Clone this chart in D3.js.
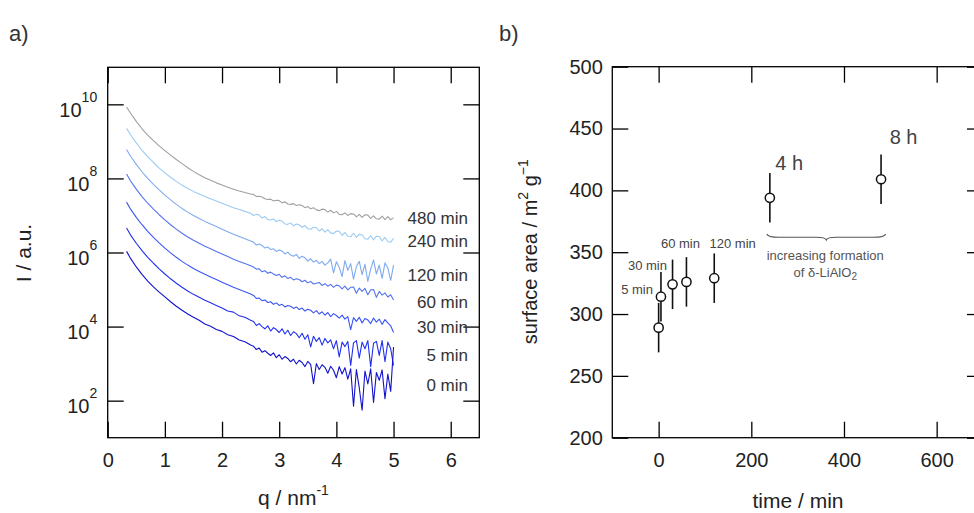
<!DOCTYPE html>
<html><head><meta charset="utf-8">
<script src="https://cdn.jsdelivr.net/npm/d3@7"></script>
<style>
body{margin:0;background:#fff}
svg{display:block}
text{font-family:"Liberation Sans",Arial,sans-serif}
</style>
</head><body>
<svg id="c" width="974" height="513"></svg>
<script>
// ---------- DATA ----------
// panel a: scattering vector q (nm^-1)
const qValues = [0.33,0.4,0.5,0.6,0.7,0.8,0.9,1.0,1.1,1.2,1.3,1.4,1.5,1.6,1.7,1.8,1.9,2.0,2.1,2.2,2.3,2.4,2.5,
  2.55,2.6,2.65,2.7,2.75,2.8,2.85,2.9,2.95,3.0,3.05,3.1,3.15,3.2,3.25,3.3,3.35,3.4,3.45,3.5,3.55,3.6,3.65,3.7,3.75,3.8,3.85,3.9,3.95,4.0,
  4.05,4.1,4.15,4.2,4.25,4.3,4.35,4.4,4.45,4.5,4.55,4.6,4.65,4.7,4.75,4.8,4.85,4.9,4.95,5.0];
const seriesNames = ["480 min","240 min","120 min","60 min","30 min","5 min","0 min"];
// log10 of intensity (a.u.)
const logI_480 = [9.93,9.76,9.54,9.34,9.17,9.02,8.88,8.75,8.63,8.51,8.40,8.29,8.19,8.10,8.02,7.95,7.88,7.82,7.76,7.71,7.66,7.62,7.58,
  7.57,7.51,7.52,7.50,7.45,7.43,7.44,7.39,7.41,7.40,7.34,7.37,7.31,7.30,7.32,7.27,7.29,7.27,7.21,7.24,7.18,7.21,7.15,7.13,7.17,7.16,7.09,7.14,7.07,7.11,
  7.03,7.02,7.07,7.00,7.05,7.04,6.96,7.03,6.95,7.02,7.01,6.92,6.99,6.91,6.90,6.98,6.89,6.97,6.88,6.94];
const logI_240 = [9.35,9.18,8.96,8.76,8.59,8.43,8.28,8.15,8.03,7.92,7.82,7.73,7.65,7.58,7.51,7.45,7.39,7.33,7.27,7.21,7.16,7.11,7.06,
  7.00,7.03,7.01,6.93,6.97,6.89,6.88,6.91,6.83,6.87,6.85,6.77,6.76,6.80,6.72,6.77,6.75,6.68,6.73,6.64,6.63,6.68,6.67,6.58,6.64,6.55,6.62,6.53,6.51,6.58,
  6.57,6.46,6.54,6.44,6.43,6.52,6.41,6.49,6.48,6.37,6.36,6.46,6.34,6.44,6.43,6.31,6.41,6.29,6.28,6.38];
const logI_120 = [8.78,8.60,8.38,8.18,8.00,7.84,7.69,7.55,7.42,7.30,7.19,7.09,7.00,6.92,6.84,6.77,6.70,6.63,6.56,6.49,6.43,6.37,6.31,
  6.28,6.20,6.23,6.19,6.12,6.15,6.08,6.10,6.03,6.07,6.04,5.96,6.01,5.93,5.90,5.95,5.84,5.90,5.86,5.77,5.83,5.74,5.79,5.70,5.76,5.66,5.72,5.82,5.45,5.75,
  5.60,5.35,5.78,5.52,5.70,5.28,5.62,5.76,5.40,5.68,5.22,5.55,5.80,5.42,5.66,5.30,5.72,5.58,5.25,5.66];
const logI_60 = [8.12,7.93,7.71,7.51,7.33,7.17,7.02,6.88,6.75,6.63,6.52,6.42,6.33,6.25,6.17,6.10,6.03,5.96,5.89,5.82,5.76,5.70,5.64,
  5.61,5.55,5.56,5.48,5.51,5.44,5.47,5.42,5.38,5.41,5.33,5.37,5.30,5.33,5.26,5.29,5.27,5.21,5.25,5.18,5.22,5.15,5.17,5.19,5.11,5.16,5.09,5.14,5.06,5.12,
  5.10,5.02,5.09,4.99,5.06,5.07,4.90,5.04,4.95,5.03,4.86,4.99,5.00,4.79,4.95,4.85,4.91,4.80,4.86,4.72];
const logI_30 = [7.36,7.17,6.95,6.75,6.57,6.41,6.26,6.12,5.99,5.87,5.76,5.66,5.57,5.49,5.41,5.34,5.27,5.20,5.13,5.06,5.00,4.94,4.88,
  4.84,4.76,4.77,4.70,4.72,4.65,4.67,4.60,4.64,4.57,4.60,4.53,4.57,4.55,4.49,4.53,4.46,4.50,4.42,4.47,4.44,4.37,4.43,4.34,4.40,4.31,4.38,4.27,4.35,4.30,
  4.23,4.31,4.20,4.27,3.92,4.24,4.14,4.25,4.10,4.22,4.18,4.08,4.23,4.12,4.20,4.06,4.19,4.10,4.02,3.84];
const logI_5 = [6.66,6.47,6.25,6.05,5.87,5.71,5.56,5.42,5.29,5.17,5.06,4.96,4.87,4.79,4.71,4.64,4.57,4.50,4.42,4.39,4.29,4.25,4.17,
  4.14,4.03,4.08,4.00,3.94,4.02,3.88,3.97,3.92,3.84,3.94,3.80,3.90,3.76,3.86,3.81,3.70,3.82,3.66,3.78,3.45,3.74,3.60,3.70,3.50,3.68,3.56,3.64,3.40,3.62,
  3.18,3.58,3.46,3.60,2.95,3.56,3.62,3.15,3.58,3.40,3.62,2.92,3.55,3.60,3.22,3.62,3.05,3.58,3.40,2.95];
const logI_0 = [6.03,5.84,5.61,5.41,5.23,5.07,4.93,4.80,4.67,4.55,4.44,4.34,4.25,4.17,4.07,4.01,3.92,3.87,3.78,3.73,3.64,3.59,3.50,
  3.47,3.38,3.42,3.31,3.35,3.28,3.22,3.29,3.16,3.24,3.12,3.19,3.14,3.05,3.12,2.99,3.09,3.03,2.92,3.06,2.98,2.46,3.00,2.84,2.97,2.90,2.74,2.93,2.82,2.62,
  2.92,2.72,2.89,2.58,2.86,1.85,2.84,2.35,1.74,2.80,2.45,2.86,1.95,2.76,2.55,2.83,2.05,2.72,2.25,3.45];
const seriesLogs = [logI_480,logI_240,logI_120,logI_60,logI_30,logI_5,logI_0];
const xTicksA = [0,1,2,3,4,5,6];
const yTicksA = [1e2,1e4,1e6,1e8,1e10];

// panel b: BET surface area vs time
const times = [0,5,30,60,120,240,480];
const surfaceArea = [289,314,324,326,329,394,409];
const surfaceErr = [20,20,20,20,20,20,20];
const pointLabels = ["","5 min","30 min","60 min","120 min","4 h","8 h"];
const xTicksB = [0,200,400,600];
const yTicksB = [200,250,300,350,400,450,500];

// ---------- DRAWING ----------
const svg = d3.select("#c");
const FONT = '"Liberation Sans",Arial,sans-serif';
const TXT = "#222";
const colors = ["#a0a0a0","#9ccbf3","#7eaaf0","#5573f0","#3a55f5","#2030ee","#1212cc"];

function styleAxis(g, size){
  g.attr("font-family", FONT).attr("font-size", size);
  g.select(".domain").remove();
  g.selectAll(".tick line").attr("stroke","#000").attr("stroke-width",1.3);
  g.selectAll(".tick text").attr("fill", TXT);
}

// ---- panel a ----
const A = {l:107.7, r:479.3, t:67.3, b:437.7};
const xA = d3.scaleLinear().domain([0,6.5]).range([A.l,A.r]);
const yA = d3.scaleLog().domain([1e1,1e11]).range([A.b,A.t]);
const gA = svg.append("g");

const lineA = d3.line().x(d=>xA(d[0])).y(d=>yA(d[1]));
seriesLogs.forEach((arr,i)=>{
  const n = Math.min(arr.length, qValues.length);
  const pts = d3.range(n).map(j=>[qValues[j], Math.pow(10, arr[j])]);
  gA.append("path").attr("d", lineA(pts)).attr("fill","none")
    .attr("stroke", colors[i]).attr("stroke-width",1.1).attr("stroke-linejoin","round");
});

gA.append("g").attr("transform",`translate(0,${A.b})`)
  .call(d3.axisBottom(xA).tickValues(xTicksA).tickSizeInner(-16).tickSizeOuter(0).tickPadding(15.5).tickFormat(d3.format("d")))
  .call(g=>styleAxis(g,20));
gA.append("g").attr("transform",`translate(0,${A.t})`)
  .call(d3.axisTop(xA).tickValues(xTicksA).tickSizeInner(-16).tickSizeOuter(0).tickFormat(""))
  .call(g=>styleAxis(g,20));
gA.append("g").attr("transform",`translate(${A.l},0)`)
  .call(d3.axisLeft(yA).tickValues(yTicksA).tickSizeInner(-16).tickSizeOuter(0).tickFormat(""))
  .call(g=>styleAxis(g,20));
gA.append("g").attr("transform",`translate(${A.r},0)`)
  .call(d3.axisRight(yA).tickValues(yTicksA).tickSizeInner(-16).tickSizeOuter(0).tickFormat(""))
  .call(g=>styleAxis(g,20));
// log labels 10^n
yTicksA.forEach(v=>{
  const t = gA.append("text").attr("x", A.l-10.5).attr("y", yA(v)+12.4)
    .attr("text-anchor","end").attr("fill",TXT).attr("font-size",20);
  t.append("tspan").text("10");
  t.append("tspan").attr("dy",-15).attr("font-size",14).text(String(Math.round(Math.log10(v))));
});
gA.append("rect").attr("x",A.l).attr("y",A.t).attr("width",A.r-A.l).attr("height",A.b-A.t)
  .attr("fill","none").attr("stroke","#000").attr("stroke-width",1.3);

// series labels
const labelBaselines = [224.4,247.1,281.4,308.4,333.4,361.1,391.1];
seriesNames.forEach((s,i)=>{
  gA.append("text").attr("x",468).attr("y",labelBaselines[i]).attr("text-anchor","end")
    .attr("font-size",17).attr("fill","#333").text(s);
});
// axis titles
const qt = gA.append("text").attr("x",293.5).attr("y",505).attr("text-anchor","middle")
  .attr("font-size",21).attr("fill",TXT);
qt.append("tspan").text("q / nm");
qt.append("tspan").attr("dy",-10).attr("font-size",14).text("-1");
gA.append("text").attr("transform","translate(31,253) rotate(-90)").attr("text-anchor","middle")
  .attr("font-size",21).attr("fill",TXT).text("I / a.u.");
svg.append("text").attr("x",9).attr("y",41).attr("font-size",22).attr("fill","#333").text("a)");

// ---- panel b ----
const B = {l:612.3, r:983, t:66.7, b:437.7};
const xB = d3.scaleLinear().domain([-100,700]).range([B.l,B.r]);
const yB = d3.scaleLinear().domain([200,500]).range([B.b,B.t]);
const gB = svg.append("g");

gB.append("g").attr("transform",`translate(0,${B.b})`)
  .call(d3.axisBottom(xB).tickValues(xTicksB).tickSizeInner(-16).tickSizeOuter(0).tickPadding(15).tickFormat(d3.format("d")))
  .call(g=>styleAxis(g,20));
gB.append("g").attr("transform",`translate(0,${B.t})`)
  .call(d3.axisTop(xB).tickValues(xTicksB).tickSizeInner(-16).tickSizeOuter(0).tickFormat(""))
  .call(g=>styleAxis(g,20));
gB.append("g").attr("transform",`translate(${B.l},0)`)
  .call(d3.axisLeft(yB).tickValues(yTicksB).tickSizeInner(-16).tickSizeOuter(0).tickPadding(9.5).tickFormat(d3.format("d")))
  .call(g=>styleAxis(g,20));
gB.append("g").attr("transform",`translate(${B.r},0)`)
  .call(d3.axisRight(yB).tickValues(yTicksB).tickSizeInner(-16).tickSizeOuter(0).tickFormat(""))
  .call(g=>styleAxis(g,20));
gB.append("rect").attr("x",B.l).attr("y",B.t).attr("width",B.r-B.l).attr("height",B.b-B.t)
  .attr("fill","none").attr("stroke","#000").attr("stroke-width",1.3);

// error bars + points
const pts = times.map((t,i)=>({t, a:surfaceArea[i], e:surfaceErr[i], lab:pointLabels[i]}));
gB.selectAll("line.err").data(pts).join("line").attr("class","err")
  .attr("x1",d=>xB(d.t)).attr("x2",d=>xB(d.t))
  .attr("y1",d=>yB(d.a-d.e)).attr("y2",d=>yB(d.a+d.e))
  .attr("stroke","#111").attr("stroke-width",1.6);
gB.selectAll("circle.pt").data(pts).join("circle").attr("class","pt")
  .attr("cx",d=>xB(d.t)).attr("cy",d=>yB(d.a)).attr("r",4.6)
  .attr("fill","#fff").attr("stroke","#111").attr("stroke-width",1.5);

// point labels (offsets in px from each point)
const labStyle = [
  null,
  {dx:-8, dy:-2.7, anchor:"end", size:13},
  {dx:-5.6, dy:-14.3, anchor:"end", size:13},
  {dx:-6, dy:-33.4, anchor:"middle", size:13},
  {dx:18.4, dy:-30, anchor:"middle", size:13},
  {dx:5.5, dy:-27.8, anchor:"start", size:20},
  {dx:8.6, dy:-35.2, anchor:"start", size:20}
];
pts.forEach((d,i)=>{
  const s = labStyle[i]; if(!s || !d.lab) return;
  gB.append("text").attr("x",xB(d.t)+s.dx).attr("y",yB(d.a)+s.dy)
    .attr("text-anchor",s.anchor).attr("font-size",s.size).attr("fill","#444").text(d.lab);
});

// brace over 4 h .. 8 h
const bx1 = xB(times[5])-3, bx2 = xB(times[6])+4.6, bxm = (bx1+bx2)/2, by = 234;
gB.append("path")
  .attr("d",`M${bx1},${by} Q${bx1+1},${by+3.3} ${bx1+12},${by+3.3} L${bxm-10},${by+3.3} Q${bxm-1},${by+3.3} ${bxm},${by+6} Q${bxm+1},${by+3.3} ${bxm+10},${by+3.3} L${bx2-12},${by+3.3} Q${bx2-1},${by+3.3} ${bx2},${by}`)
  .attr("fill","none").attr("stroke","#555").attr("stroke-width",1.1);
gB.append("text").attr("x",bxm-1).attr("y",260).attr("text-anchor","middle")
  .attr("font-size",13).attr("fill","#555").text("increasing formation");
const lt = gB.append("text").attr("x",bxm-1).attr("y",276.7).attr("text-anchor","middle")
  .attr("font-size",13).attr("fill","#555");
lt.append("tspan").text("of δ-LiAlO");
lt.append("tspan").attr("dy",3).attr("font-size",10).text("2");

// axis titles
gB.append("text").attr("x",798).attr("y",508).attr("text-anchor","middle")
  .attr("font-size",21).attr("fill",TXT).text("time / min");
const st = gB.append("text").attr("transform","translate(537,251.7) rotate(-90)")
  .attr("text-anchor","middle").attr("font-size",20).attr("fill",TXT);
st.append("tspan").text("surface area / m");
st.append("tspan").attr("dy",-9).attr("font-size",14).text("2");
st.append("tspan").attr("dy",9).text(" g");
st.append("tspan").attr("dy",-9).attr("font-size",14).text("−1");
svg.append("text").attr("x",499).attr("y",41).attr("font-size",22).attr("fill","#333").text("b)");
</script>
</body></html>
